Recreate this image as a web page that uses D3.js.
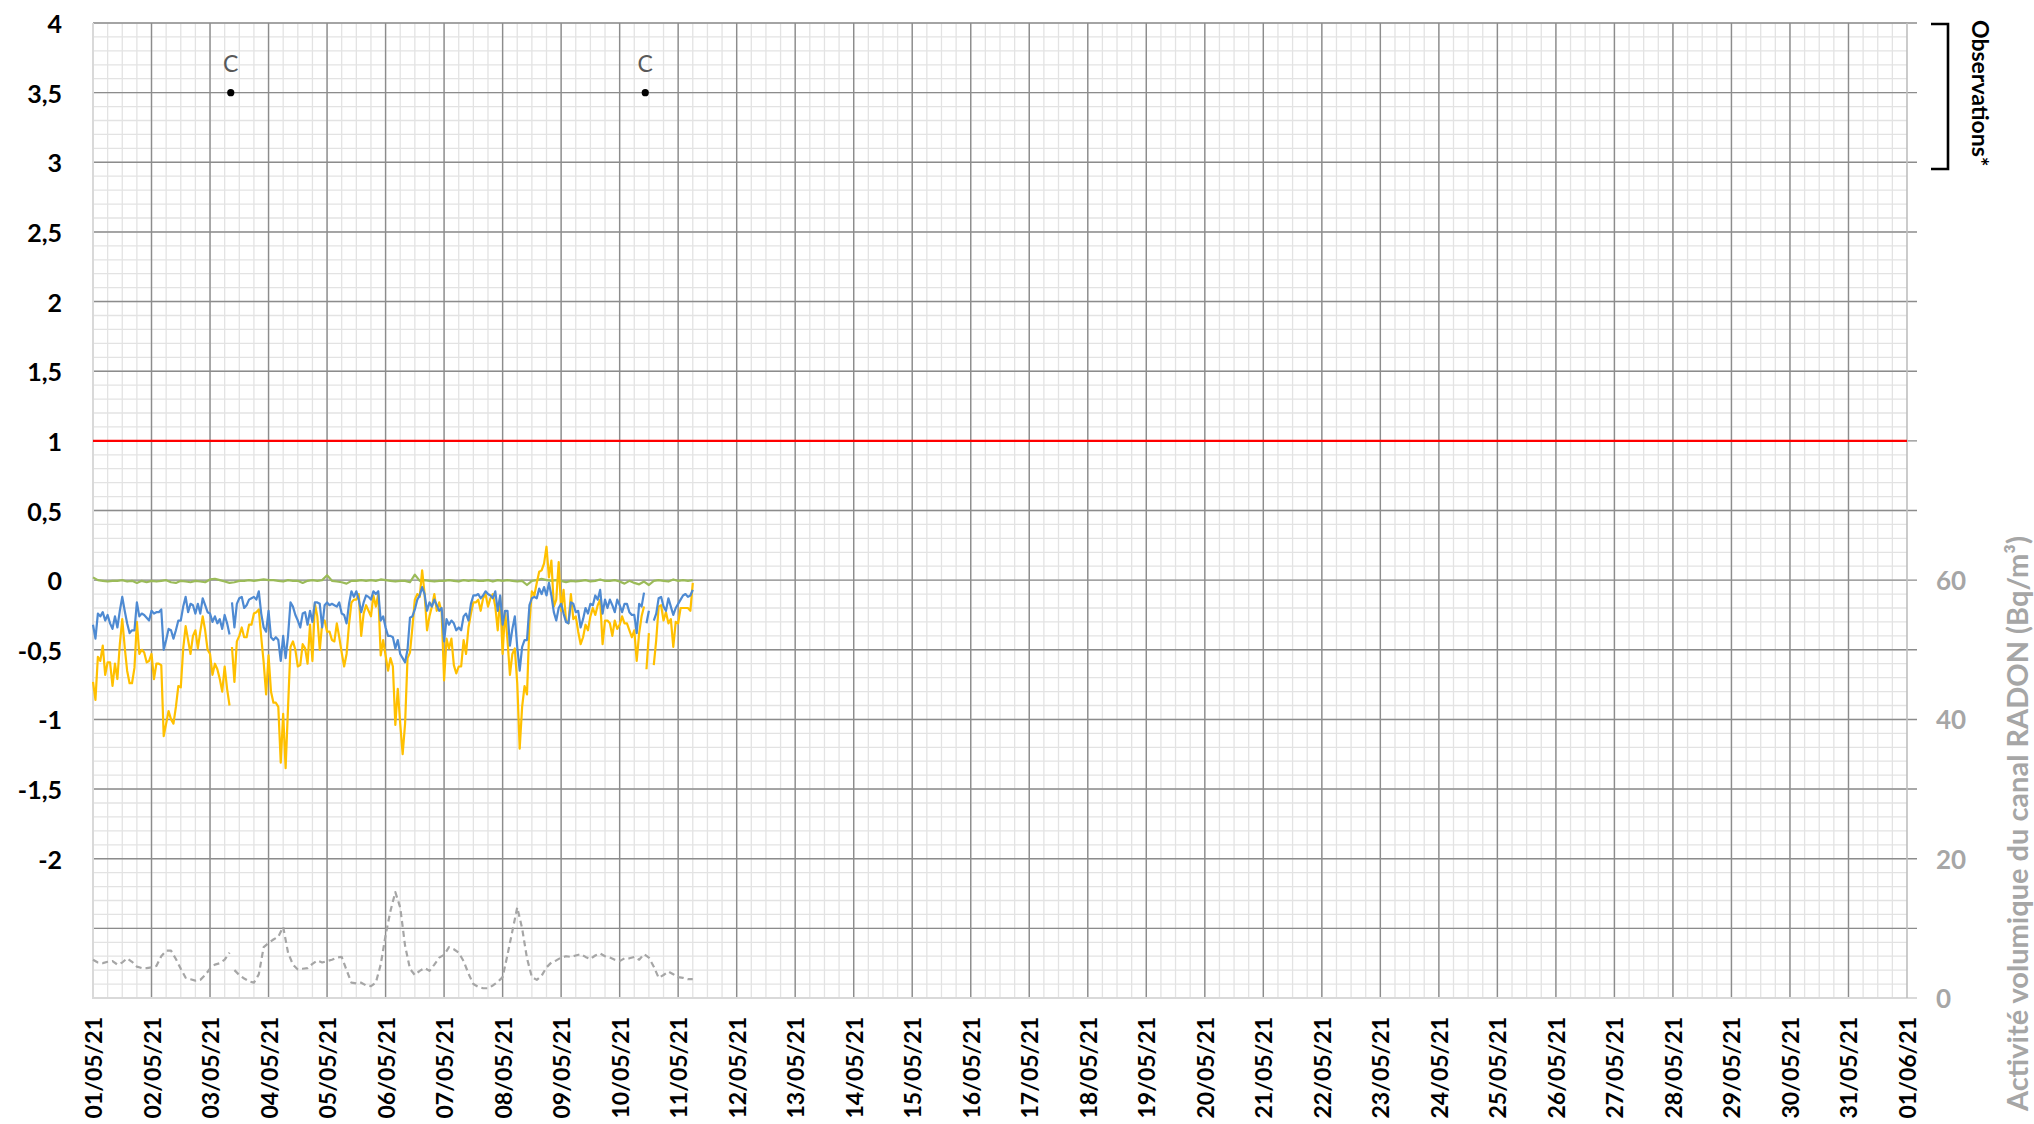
<!DOCTYPE html>
<html>
<head>
<meta charset="utf-8">
<script src="https://cdn.jsdelivr.net/npm/d3@7"></script>
<style>
  body { margin: 0; background: #fff; }
  text { font-family: Lato, "Open Sans", sans-serif; }
</style>
</head>
<body>
<svg></svg>
<script>
/*------------------------
  ------ VARIABLES -------
  ------------------------*/

// time span of the x axis
var start_date = "2021-05-01T00:00:00Z" ;
var end_date = "2021-06-01T00:00:00Z" ;

// axes
var left_ticks = [4, 3.5, 3, 2.5, 2, 1.5, 1, 0.5, 0, -0.5, -1, -1.5, -2] ;
var right_ticks = [0, 20, 40, 60] ;
var threshold = 1 ;

// calibrations (C) at the observation level
var calib_times = ["2021-05-03T08:30:00Z", "2021-05-10T10:30:00Z"] ;
var calib_labels = ["C", "C"] ;
var calib_level = 3.5 ;

// hourly values from 01/05 00:00 (left axis)
var blue_vals = [
  -0.32,-0.42,-0.24,-0.26,-0.23,-0.29,-0.25,-0.31,-0.35,-0.26,
  -0.34,-0.22,-0.12,-0.22,-0.31,-0.38,-0.36,-0.36,-0.16,-0.26,
  -0.24,-0.25,-0.27,-0.29,-0.22,-0.24,-0.23,-0.23,-0.21,-0.50,
  -0.43,-0.35,-0.36,-0.42,-0.36,-0.29,-0.29,-0.19,-0.12,-0.23,
  -0.17,-0.18,-0.24,-0.17,-0.24,-0.13,-0.18,-0.23,-0.24,-0.30,
  -0.26,-0.31,-0.28,-0.35,-0.25,-0.31,-0.39,-0.16,-0.34,-0.17,
  -0.13,-0.12,-0.20,-0.18,-0.14,-0.13,-0.12,-0.14,-0.08,-0.24,
  -0.34,-0.37,-0.22,-0.41,-0.43,-0.41,-0.43,-0.58,-0.40,-0.56,
  -0.40,-0.16,-0.19,-0.25,-0.29,-0.34,-0.24,-0.23,-0.32,-0.22,
  -0.30,-0.16,-0.16,-0.17,-0.34,-0.18,-0.16,-0.18,-0.17,-0.18,
  -0.19,-0.16,-0.24,-0.25,-0.31,-0.17,-0.08,-0.12,-0.08,-0.14,
  -0.23,-0.16,-0.11,-0.12,-0.14,-0.08,-0.10,-0.08,-0.29,-0.26,
  -0.34,-0.40,-0.40,-0.41,-0.49,-0.43,-0.53,-0.56,-0.59,-0.50,
  -0.27,-0.26,-0.21,-0.14,-0.11,-0.05,-0.10,-0.22,-0.16,-0.19,
  -0.14,-0.18,-0.22,-0.20,-0.44,-0.28,-0.32,-0.29,-0.31,-0.36,
  -0.34,-0.36,-0.26,-0.24,-0.29,-0.17,-0.11,-0.11,-0.10,-0.13,
  -0.11,-0.08,-0.10,-0.11,-0.13,-0.08,-0.22,-0.11,-0.32,-0.22,
  -0.22,-0.47,-0.35,-0.26,-0.48,-0.65,-0.48,-0.43,-0.43,-0.18,
  -0.13,-0.12,-0.13,-0.06,-0.10,-0.05,-0.11,-0.02,-0.11,-0.23,
  -0.29,-0.20,-0.17,-0.24,-0.30,-0.31,-0.16,-0.17,-0.23,-0.22,
  -0.34,-0.28,-0.20,-0.24,-0.17,-0.18,-0.11,-0.14,-0.07,-0.24,
  -0.14,-0.20,-0.14,-0.18,-0.23,-0.14,-0.18,-0.23,-0.17,-0.17,
  -0.23,-0.25,-0.25,-0.38,-0.17,-0.19,-0.09,-0.31,-0.22,null,
  -0.29,-0.24,-0.13,-0.12,-0.19,-0.22,-0.13,-0.19,-0.25,-0.20,
  -0.17,-0.14,-0.11,-0.10,-0.12,-0.11,-0.07] ;

var orange_vals = [
  -0.73,-0.86,-0.55,-0.58,-0.47,-0.68,-0.59,-0.59,-0.76,-0.60,
  -0.71,-0.46,-0.28,-0.48,-0.65,-0.74,-0.74,-0.63,-0.30,-0.53,
  -0.50,-0.52,-0.59,-0.58,-0.53,-0.71,-0.60,-0.60,-0.61,-1.12,
  -1.03,-0.94,-1.00,-1.03,-0.91,-0.76,-0.77,-0.49,-0.33,-0.43,
  -0.53,-0.40,-0.36,-0.49,-0.37,-0.26,-0.36,-0.50,-0.53,-0.68,
  -0.60,-0.64,-0.71,-0.80,-0.62,-0.78,-0.90,-0.48,-0.73,-0.44,
  -0.40,-0.34,-0.41,-0.41,-0.32,-0.32,-0.24,-0.23,-0.21,-0.41,
  -0.59,-0.82,-0.54,-0.80,-0.88,-0.88,-0.91,-1.31,-0.96,-1.35,
  -0.91,-0.48,-0.44,-0.50,-0.62,-0.61,-0.46,-0.49,-0.60,-0.32,
  -0.58,-0.17,-0.26,-0.50,-0.31,-0.29,-0.37,-0.37,-0.43,-0.44,
  -0.31,-0.41,-0.52,-0.62,-0.53,-0.32,-0.16,-0.14,-0.14,-0.10,
  -0.40,-0.24,-0.18,-0.22,-0.26,-0.11,-0.19,-0.10,-0.54,-0.43,
  -0.54,-0.65,-0.56,-0.62,-1.04,-0.78,-1.03,-1.25,-1.03,-0.56,
  -0.52,-0.34,-0.14,-0.10,-0.12, 0.07,-0.10,-0.36,-0.26,-0.19,
  -0.10,-0.22,-0.16,-0.23,-0.72,-0.42,-0.49,-0.42,-0.61,-0.67,
  -0.62,-0.62,-0.43,-0.53,-0.34,-0.24,-0.16,-0.16,-0.14,-0.22,
  -0.13,-0.10,-0.19,-0.13,-0.10,-0.19,-0.36,-0.12,-0.53,-0.22,
  -0.43,-0.68,-0.53,-0.49,-0.74,-1.21,-0.91,-0.76,-0.82,-0.31,
  -0.08,-0.11,-0.02, 0.06, 0.07, 0.12, 0.24, 0.02, 0.14,-0.19,
  -0.14, 0.13,-0.22,-0.07,-0.29,-0.31,-0.10,-0.28,-0.26,-0.37,
  -0.46,-0.41,-0.32,-0.36,-0.26,-0.20,-0.25,-0.18,-0.14,-0.46,
  -0.29,-0.29,-0.31,-0.40,-0.29,-0.35,-0.32,-0.26,-0.31,-0.31,
  -0.36,-0.41,-0.36,-0.58,-0.38,-0.26,-0.19,-0.64,-0.38,null,
  -0.61,-0.43,-0.19,-0.18,-0.29,-0.23,-0.31,-0.28,-0.48,-0.30,
  -0.31,-0.20,-0.20,-0.20,-0.20,-0.22,-0.02] ;

// 2-hourly values from 01/05 00:00 (left axis)
var green_vals = [
  0.02,0.00,-0.005,-0.01,-0.005,-0.005,0.0,-0.01,-0.005,-0.02,
  -0.005,-0.015,-0.005,-0.01,-0.005,0.0,-0.015,-0.02,-0.005,-0.01,
  -0.015,-0.005,-0.01,-0.015,0.005,0.01,0.0,-0.01,-0.02,-0.015,
  -0.005,-0.005,0.0,-0.005,0.0,0.005,0.0,0.0,-0.005,-0.01,
  0.0,-0.005,-0.005,-0.02,-0.005,0.0,-0.005,0.0,0.035,-0.005,
  -0.01,-0.015,-0.025,-0.005,-0.005,0.0,-0.005,0.0,-0.005,0.005,
  0.0,-0.005,-0.01,-0.005,-0.005,-0.015,0.04,-0.005,0.0,-0.005,
  -0.01,-0.005,-0.005,0.0,-0.005,-0.01,0.0,-0.005,0.0,-0.005,
  -0.005,0.0,-0.01,0.0,-0.005,0.0,-0.005,-0.01,-0.005,-0.035,
  -0.005,0.0,0.01,0.0,-0.005,0.0,-0.005,-0.015,-0.005,-0.01,
  -0.005,0.0,-0.01,-0.005,0.005,-0.005,-0.005,0.0,-0.01,-0.025,
  -0.005,-0.02,-0.03,-0.01,-0.035,-0.005,0.0,-0.005,-0.01,0.005,
  -0.005,0.0,-0.005,0.0] ;

// 2-hourly radon activity, Bq/m3 (right axis)
var radon_vals = [
  5.5,5.1,5.0,5.2,5.3,4.8,5.1,5.7,5.2,4.5,
  4.3,4.3,4.4,4.6,6.0,6.8,6.8,5.6,4.2,2.9,
  2.7,2.5,2.6,3.3,4.2,4.8,5.0,5.5,6.5,4.0,
  3.3,2.8,2.4,2.2,3.4,7.3,7.9,8.4,8.8,10.2,
  6.5,4.8,4.1,4.2,4.3,4.9,5.4,5.1,5.3,5.5,
  5.8,5.9,4.0,2.2,2.1,2.2,1.8,1.7,2.2,4.8,
  9.0,12.5,15.2,13.0,7.5,4.2,3.3,3.9,4.3,3.9,
  4.8,5.8,6.2,7.3,7.0,6.5,5.3,3.5,2.0,1.6,
  1.4,1.4,1.8,2.3,3.0,6.2,9.6,13.0,10.0,5.7,
  3.0,2.6,3.2,4.4,5.1,5.4,5.8,6.0,5.9,6.1,
  6.3,5.9,5.6,6.1,6.4,6.0,5.8,5.5,5.3,5.7,
  5.7,5.9,5.5,6.3,5.8,4.5,2.9,3.3,3.8,3.4,
  3.0,2.9,2.7,2.7] ;

// display
var W = 2034, H = 1124 ;
var plot = {left: 93, right: 1907, top: 23, bottom: 998} ;
var grid = {minor: "#e3e3e3", major: "#8c8c8c", axis: "#d9d9d9"} ;
var grey_txt = "#a6a6a6" ;

var series = [
  {vals: green_vals,  step: 2, color: "#9bbb59", dash: null,  axis: "left",  breaks: []},
  {vals: radon_vals,  step: 2, color: "#a6a6a6", dash: "6,4", axis: "right", breaks: [calib_times[0]]},
  {vals: orange_vals, step: 1, color: "#ffc000", dash: null,  axis: "left",  breaks: calib_times},
  {vals: blue_vals,   step: 1, color: "#4e8ad2", dash: null,  axis: "left",  breaks: calib_times}
] ;

var t0 = new Date(start_date), t1 = new Date(end_date) ;
var x = d3.scaleUtc().domain([t0, t1]).range([plot.left, plot.right]) ;
var y = d3.scaleLinear().domain([-3, 4]).range([plot.bottom, plot.top]) ;
var y2 = d3.scaleLinear().domain([0, 140]).range([plot.bottom, plot.top]) ;

var svg = d3.select("svg").attr("width", W).attr("height", H) ;

/*---------------------
  ------- GRID --------
  ---------------------*/

function display_grid() {
    var g = svg.append("g").attr("class", "grid-layer") ;

    // minor: every 6 hours and every 0.1
    g.selectAll(".vminor")
        .data(d3.utcHour.every(6).range(t0, t1))
        .enter().append("line")
        .attr("x1", d => x(d)).attr("x2", d => x(d))
        .attr("y1", plot.top).attr("y2", plot.bottom)
        .attr("stroke", grid.minor).attr("stroke-width", 1.3) ;
    g.selectAll(".hminor")
        .data(d3.range(-30, 41).map(i => i / 10))
        .enter().append("line")
        .attr("x1", plot.left).attr("x2", plot.right)
        .attr("y1", d => y(d)).attr("y2", d => y(d))
        .attr("stroke", grid.minor).attr("stroke-width", 1.3) ;

    // major: every day and every 0.5
    g.selectAll(".vmajor")
        .data(d3.utcDay.range(d3.utcDay.offset(t0, 1), t1))
        .enter().append("line")
        .attr("x1", d => x(d)).attr("x2", d => x(d))
        .attr("y1", plot.top).attr("y2", plot.bottom)
        .attr("stroke", grid.major).attr("stroke-width", 1.4) ;
    g.selectAll(".hmajor")
        .data(d3.range(-5, 9).map(i => i / 2))
        .enter().append("line")
        .attr("x1", plot.left).attr("x2", plot.right + 10)
        .attr("y1", d => y(d)).attr("y2", d => y(d))
        .attr("stroke", grid.major).attr("stroke-width", 1.4) ;

    // axis lines
    g.append("line")
        .attr("x1", plot.left).attr("x2", plot.left)
        .attr("y1", plot.top).attr("y2", plot.bottom + 1)
        .attr("stroke", grid.axis).attr("stroke-width", 2) ;
    g.append("line")
        .attr("x1", plot.left).attr("x2", plot.right + 10)
        .attr("y1", plot.bottom).attr("y2", plot.bottom)
        .attr("stroke", grid.axis).attr("stroke-width", 2) ;
    g.append("line")
        .attr("x1", plot.right).attr("x2", plot.right)
        .attr("y1", plot.top).attr("y2", plot.bottom)
        .attr("stroke", "#bfbfbf").attr("stroke-width", 1.6) ;

    // threshold
    g.append("line")
        .attr("x1", plot.left).attr("x2", plot.right)
        .attr("y1", y(threshold)).attr("y2", y(threshold))
        .attr("stroke", "#ff0000").attr("stroke-width", 2.2) ;
}

/*---------------------
  ------ SERIES -------
  ---------------------*/

function series_points(s) {
    var pts = s.vals.map(function(v, i) {
        return {t: new Date(+t0 + i * s.step * 3600e3), v: v} ;
    }) ;
    s.breaks.forEach(function(b) { pts.push({t: new Date(b), v: null}) ; }) ;
    pts.sort((a, b) => a.t - b.t) ;
    return pts ;
}

function display_series() {
    var g = svg.append("g").attr("class", "series-layer") ;
    series.forEach(function(s) {
        var sy = s.axis == "right" ? y2 : y ;
        var line = d3.line()
            .defined(d => d.v != null)
            .x(d => x(d.t))
            .y(d => sy(d.v)) ;
        g.append("path")
            .datum(series_points(s))
            .attr("d", line)
            .attr("fill", "none")
            .attr("stroke", s.color)
            .attr("stroke-width", 2.2)
            .attr("stroke-linejoin", "round")
            .attr("stroke-dasharray", s.dash) ;
    }) ;

    // calibration marks
    var c = g.selectAll(".calib")
        .data(calib_times.map((t, i) => ({t: new Date(t), label: calib_labels[i]})))
        .enter().append("g").attr("class", "calib") ;
    c.append("circle")
        .attr("cx", d => x(d.t)).attr("cy", y(calib_level))
        .attr("r", 3.6).attr("fill", "#000") ;
    c.append("text")
        .attr("x", d => x(d.t)).attr("y", y(calib_level) - 21)
        .attr("text-anchor", "middle")
        .attr("font-size", 23).attr("fill", "#595959")
        .text(d => d.label) ;
}

/*---------------------
  ------- AXES --------
  ---------------------*/

function display_axes() {
    var g = svg.append("g").attr("class", "axis-layer") ;

    g.selectAll(".ylab")
        .data(left_ticks)
        .enter().append("text")
        .attr("x", 62).attr("y", d => y(d))
        .attr("text-anchor", "end").attr("dominant-baseline", "central")
        .attr("font-size", 25).attr("font-weight", "bold").attr("fill", "#000")
        .text(d => String(d).replace(".", ",")) ;

    g.selectAll(".y2lab")
        .data(right_ticks)
        .enter().append("text")
        .attr("x", 1936).attr("y", d => y2(d))
        .attr("dominant-baseline", "central")
        .attr("font-size", 26).attr("font-weight", "bold").attr("fill", grey_txt)
        .text(d => d) ;

    var fmt = d3.utcFormat("%d/%m/%y") ;
    g.selectAll(".xlab")
        .data(d3.utcDay.range(t0, d3.utcDay.offset(t1, 1)))
        .enter().append("text")
        .attr("transform", d => "translate(" + x(d) + ",1017) rotate(-90)")
        .attr("text-anchor", "end").attr("dominant-baseline", "central")
        .attr("font-size", 23).attr("font-weight", "bold").attr("fill", "#000")
        .text(d => fmt(d)) ;

    // right axis title
    g.append("text")
        .attr("transform", "translate(2016,536) rotate(-90)")
        .attr("text-anchor", "end").attr("dominant-baseline", "central")
        .attr("font-size", 29).attr("font-weight", "bold").attr("fill", grey_txt)
        .text("Activité volumique du canal RADON (Bq/m³)") ;

    // observations bracket
    g.append("path")
        .attr("d", "M1931,24 H1948 V169 H1931")
        .attr("fill", "none").attr("stroke", "#000").attr("stroke-width", 2.6) ;
    g.append("text")
        .attr("transform", "translate(1981,20) rotate(90)")
        .attr("dominant-baseline", "central")
        .attr("font-size", 23).attr("font-weight", "bold").attr("fill", "#000")
        .text("Observations*") ;
}

/*------------------
  ------ RUN -------
  ------------------*/

display_grid() ;
display_series() ;
display_axes() ;
</script>
</body>
</html>
